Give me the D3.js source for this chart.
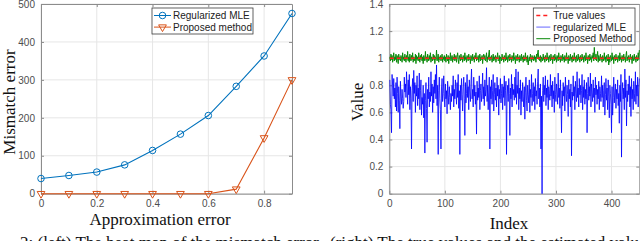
<!DOCTYPE html>
<html>
<head>
<meta charset="utf-8">
<script src="https://cdn.jsdelivr.net/npm/d3@7"></script>
<style>
  body { margin: 0; background: #fff; overflow: hidden; }
  svg { display: block; }
  .tick text { font-family: "Liberation Sans", Arial, sans-serif; font-size: 10px; fill: #4d4d4d; }
</style>
</head>
<body>
<script>
// ---- left panel data
var approxErr = [0, 0.1, 0.2, 0.3, 0.4, 0.5, 0.6, 0.7, 0.8, 0.9];
var mleError = [40, 48, 57, 76, 114, 157, 206, 283, 363, 475];
var proposedError = [0, 0, 0, 0, 0, 0, 0, 12, 147, 300];
var leftXTicks = [0, 0.2, 0.4, 0.6, 0.8];
var leftYTicks = [0, 100, 200, 300, 400, 500];

// ---- right panel data (index 1..450)
var trueValue = 1;
var mleValues = [
  0.84,0.66,0.62,0.45,0.88,0.80,0.72,0.85,0.70,0.78,
  0.64,0.82,0.61,0.86,0.74,0.60,0.79,0.69,0.48,0.83,
  0.72,0.66,0.77,0.70,0.63,0.68,0.86,0.75,0.81,0.71,
  0.90,0.78,0.66,0.84,0.73,0.88,0.62,0.79,0.70,0.33,
  0.76,0.85,0.68,0.91,0.74,0.82,0.60,0.80,0.72,0.87,
  0.65,0.78,0.70,0.89,0.62,0.76,0.84,0.58,0.71,0.66,
  0.80,0.56,0.74,0.30,0.69,0.82,0.63,0.38,0.77,0.70,
  0.86,0.64,0.75,0.68,0.90,0.72,0.81,0.60,0.79,0.67,
  0.84,0.74,0.88,0.70,0.95,0.65,0.80,0.29,0.76,0.86,
  0.70,0.62,0.33,0.78,0.85,0.68,0.74,0.87,0.72,0.64,
  0.81,0.70,0.76,0.59,0.83,0.73,0.66,0.79,0.71,0.62,
  0.74,0.68,0.80,0.72,0.87,0.64,0.77,0.70,0.84,0.75,
  0.66,0.82,0.71,0.88,0.63,0.76,0.29,0.80,0.69,0.85,
  0.73,0.61,0.78,0.86,0.70,0.43,0.82,0.67,0.74,0.88,
  0.71,0.79,0.62,0.84,0.75,0.68,0.81,0.92,0.70,0.77,
  0.64,0.86,0.72,0.80,0.66,0.75,0.44,0.83,0.69,0.78,
  0.71,0.87,0.62,0.76,0.81,0.68,0.74,0.89,0.70,0.79,
  0.65,0.84,0.72,0.77,0.93,0.68,0.80,0.62,0.75,0.86,
  0.33,0.79,0.70,0.84,0.66,0.76,0.88,0.61,0.73,0.82,
  0.69,0.78,0.64,0.86,0.72,0.80,0.58,0.77,0.70,0.85,
  0.67,0.74,0.81,0.62,0.79,0.71,0.87,0.65,0.76,0.83,
  0.29,0.72,0.80,0.68,0.85,0.74,0.43,0.78,0.70,0.88,
  0.64,0.81,0.73,0.77,0.69,0.86,0.71,0.92,0.66,0.80,
  0.74,0.90,0.62,0.78,0.70,0.84,0.58,0.76,0.68,0.82,
  0.72,0.64,0.79,0.55,0.75,0.86,0.69,0.61,0.80,0.73,
  0.67,0.84,0.60,0.77,0.71,0.88,0.65,0.74,0.82,0.68,
  0.79,0.62,0.85,0.72,0.76,0.66,0.83,0.92,0.70,0.78,
  0.64,0.81,0.33,0.72,0.00,0.76,0.86,0.68,0.80,0.73,
  0.87,0.65,0.78,0.71,0.84,0.62,0.79,0.74,0.69,0.88,
  0.72,0.80,0.64,0.83,0.70,0.76,0.60,0.86,0.73,0.68,
  0.81,0.75,0.66,0.89,0.71,0.78,0.63,0.84,0.70,0.45,
  0.76,0.65,0.82,0.72,0.79,0.61,0.86,0.74,0.68,0.80,
  0.73,0.57,0.84,0.70,0.77,0.64,0.81,0.28,0.75,0.69,
  0.87,0.72,0.79,0.62,0.83,0.74,0.68,0.90,0.71,0.78,
  0.64,0.85,0.73,0.80,0.67,0.76,0.88,0.62,0.79,0.71,
  0.84,0.66,0.77,0.70,0.82,0.45,0.74,0.86,0.69,0.79,
  0.72,0.89,0.64,0.81,0.75,0.68,0.84,0.71,0.78,0.60,
  0.86,0.73,0.80,0.66,0.77,0.70,0.83,0.62,0.79,0.74,
  0.68,0.87,0.71,0.80,0.64,0.76,0.82,0.58,0.73,0.85,
  0.69,0.78,0.62,0.84,0.72,0.56,0.80,0.74,0.66,0.45,
  0.79,0.58,0.71,0.86,0.67,0.75,0.81,0.63,0.77,0.70,
  0.84,0.65,0.74,0.52,0.80,0.68,0.88,0.27,0.73,0.82,
  0.70,0.78,0.62,0.92,0.71,0.84,0.50,0.76,0.68,0.81,
  0.73,0.87,0.64,0.79,0.57,0.85,0.70,0.77,0.62,0.83,
  0.74,0.68,0.90,0.66,0.80,0.72,0.86,0.64,0.78,0.85
];
var proposedValues = [
  1.01,0.98,1.03,0.99,1.02,0.97,1.00,1.04,0.98,1.01,
  0.99,1.03,0.97,1.02,1.00,0.96,1.03,0.99,1.01,0.98,
  1.02,1.00,0.97,1.04,0.99,1.01,0.98,1.03,1.00,0.97,
  1.02,0.99,1.05,0.98,1.01,0.97,1.03,1.00,0.98,1.02,
  0.99,1.04,0.97,1.01,1.00,0.98,1.03,0.96,1.02,0.99,
  1.01,0.98,1.04,1.00,0.97,1.02,0.99,1.03,0.98,1.01,
  0.96,1.02,1.00,0.98,1.05,0.99,1.01,0.97,1.03,1.00,
  0.98,1.02,0.99,1.04,0.97,1.01,1.00,0.98,1.03,0.99,
  1.02,0.96,1.01,0.99,1.06,0.98,1.00,1.03,0.97,1.01,
  0.99,1.02,0.98,1.00,1.03,0.97,1.01,0.99,1.02,0.98,
  1.01,0.97,1.03,1.00,0.98,1.02,0.96,1.01,0.99,1.04,
  0.98,1.00,1.02,0.97,1.01,0.99,1.03,0.98,1.00,1.02,
  0.97,1.01,1.04,0.99,0.96,1.02,1.00,0.98,1.03,0.99,
  1.01,0.97,1.02,1.00,0.98,1.04,0.99,1.01,0.97,1.02,
  1.00,0.98,1.03,0.99,1.01,0.96,1.02,1.00,0.98,1.03,
  0.99,1.01,0.97,1.02,1.00,1.04,0.98,1.01,0.99,1.02,
  0.97,1.00,1.03,0.98,1.01,0.99,1.02,0.96,1.01,1.03,
  0.99,1.02,0.98,1.00,1.04,0.97,1.01,0.99,1.03,1.06,
  0.98,1.01,0.99,1.02,0.97,1.00,1.03,0.98,1.01,0.99,
  1.02,0.97,1.01,1.00,1.04,0.98,0.99,1.02,0.96,1.01,
  1.00,0.98,1.03,0.99,1.01,0.97,1.02,1.00,0.98,1.04,
  0.99,1.01,0.97,1.02,1.00,0.98,1.03,0.99,1.01,0.97,
  1.02,1.00,0.98,1.04,0.99,1.01,0.96,1.02,1.00,0.98,
  1.03,0.99,1.01,0.97,1.02,1.00,0.98,1.03,0.99,1.01,
  0.97,1.02,1.00,0.98,1.04,0.99,1.01,0.97,1.02,0.95,
  0.99,1.01,0.98,1.03,1.00,0.97,1.02,0.99,1.01,0.98,
  1.02,0.99,1.01,0.97,1.03,1.00,1.04,1.06,0.99,1.01,
  0.98,1.02,0.97,1.01,1.00,0.98,1.03,0.99,1.01,0.97,
  1.02,1.00,0.98,1.04,0.99,1.01,0.97,1.02,1.00,0.98,
  1.03,0.99,1.01,0.96,1.02,1.00,0.98,1.03,0.99,1.01,
  0.97,1.02,1.00,0.98,1.04,0.99,1.01,0.97,1.02,1.00,
  0.98,1.03,0.99,1.01,0.97,1.02,1.00,0.98,1.04,0.99,
  1.01,0.96,1.02,1.00,0.98,1.03,0.99,1.01,0.97,1.02,
  1.00,0.98,1.04,0.99,1.01,0.97,1.02,1.00,0.98,1.03,
  0.99,1.01,0.97,1.02,1.00,0.98,1.03,0.99,1.01,0.97,
  1.02,1.00,0.98,1.04,0.99,1.01,0.96,1.02,1.00,0.98,
  1.03,0.99,1.01,0.97,1.02,1.00,1.04,0.98,1.08,1.01,
  0.99,1.03,0.98,1.01,1.05,0.97,1.02,1.00,0.98,1.03,
  0.99,1.01,0.97,1.02,1.00,0.98,1.04,0.99,1.01,0.97,
  1.02,1.00,0.98,1.03,0.95,1.01,0.97,1.02,1.00,0.98,
  1.04,0.99,1.01,0.96,1.02,1.00,0.98,1.03,0.99,1.01,
  0.97,1.02,1.00,0.98,1.04,0.99,1.01,0.97,1.02,1.00,
  0.98,1.03,0.99,1.01,0.97,1.02,1.05,0.98,1.01,0.99,
  1.02,0.97,1.00,1.03,0.99,1.01,0.96,1.02,1.00,0.98,
  1.03,0.99,1.01,0.97,1.02,1.00,0.98,1.04,0.99,1.06
];
var rightXTicks = [0, 100, 200, 300, 400];
var rightYTicks = [0, 0.2, 0.4, 0.6, 0.8, 1, 1.2, 1.4];

var captionLeft = "2: (left) The heat map of the mismatch error.";
var captionRight = "(right) The true values and the estimated values by the";

var W = 640, H = 241;
var serif = '"Liberation Serif", "DejaVu Serif", serif';
var sans = '"Liberation Sans", Arial, sans-serif';
var axisColor = "#8c8c8c";
var gridColor = "#e6e6e6";

var svg = d3.select("body").append("svg")
    .attr("width", W)
    .attr("height", H);

// draws box, grid, ticks and labels of one MATLAB-style axes
function drawFrame(g, x, y, xTicks, yTicks) {
    var x0 = x.range()[0], x1 = x.range()[1];
    var y0 = y.range()[0], y1 = y.range()[1];
    var w = x1 - x0, h = y0 - y1;

    // grid
    g.append("g").selectAll("line").data(xTicks).enter().append("line")
        .attr("x1", function(d) { return x(d); })
        .attr("x2", function(d) { return x(d); })
        .attr("y1", y1).attr("y2", y0)
        .attr("stroke", gridColor).attr("stroke-width", 1);
    g.append("g").selectAll("line").data(yTicks).enter().append("line")
        .attr("y1", function(d) { return y(d); })
        .attr("y2", function(d) { return y(d); })
        .attr("x1", x0).attr("x2", x1)
        .attr("stroke", gridColor).attr("stroke-width", 1);

    var fmt = d3.format("~g");
    var axes = [
        g.append("g").attr("transform", "translate(0," + y0 + ")")
            .call(d3.axisBottom(x).tickValues(xTicks).tickSizeInner(-3).tickSizeOuter(0).tickPadding(6).tickFormat(fmt)),
        g.append("g").attr("transform", "translate(" + x0 + ",0)")
            .call(d3.axisLeft(y).tickValues(yTicks).tickSizeInner(-3).tickSizeOuter(0).tickPadding(6).tickFormat(fmt)),
        g.append("g").attr("transform", "translate(0," + y1 + ")")
            .call(d3.axisTop(x).tickValues(xTicks).tickSizeInner(-3).tickSizeOuter(0).tickFormat("")),
        g.append("g").attr("transform", "translate(" + x1 + ",0)")
            .call(d3.axisRight(y).tickValues(yTicks).tickSizeInner(-3).tickSizeOuter(0).tickFormat(""))
    ];
    axes.forEach(function(a) {
        a.select(".domain").attr("stroke", axisColor);
        a.selectAll(".tick line").attr("stroke", axisColor);
    });
}

function drawLegend(g, x, y, w, h, items) {
    g.append("rect")
        .attr("x", x).attr("y", y).attr("width", w).attr("height", h)
        .attr("fill", "#fff").attr("stroke", "#3a3a3a").attr("stroke-width", 0.8);
    items.forEach(function(it, i) {
        var cy = y + 7.5 + i * 11.6;
        var row = g.append("g");
        row.append("line")
            .attr("x1", x + it.lx0).attr("x2", x + it.lx1)
            .attr("y1", cy).attr("y2", cy)
            .attr("stroke", it.color)
            .attr("stroke-width", it.width || 1)
            .attr("stroke-opacity", it.opacity || 1)
            .attr("stroke-dasharray", it.dash || null);
        if (it.symbol) {
            row.append("path")
                .attr("d", it.symbol)
                .attr("transform", "translate(" + (x + (it.lx0 + it.lx1) / 2) + "," + cy + ")" + (it.rotate ? " rotate(180)" : ""))
                .attr("fill", "none").attr("stroke", it.color).attr("stroke-width", 1);
        }
        row.append("text")
            .attr("x", x + it.tx).attr("y", cy + 3.6)
            .attr("font-family", sans).attr("font-size", "10px")
            .attr("fill", "#222")
            .text(it.label);
    });
}

// ================= left panel =================
var xL = d3.scaleLinear().domain([0, 0.9]).range([41, 292]);
var yL = d3.scaleLinear().domain([0, 500]).range([193.7, 4]);
var gL = svg.append("g");
drawFrame(gL, xL, yL, leftXTicks, leftYTicks);

var circleSym = d3.symbol().type(d3.symbolCircle).size(34)();
var triSym = d3.symbol().type(d3.symbolTriangle).size(26)();

var lineL = d3.line()
    .x(function(d) { return xL(d[0]); })
    .y(function(d) { return yL(d[1]); });

var seriesL = [
    { values: mleError, color: "#0072BD", sym: circleSym, rot: false },
    { values: proposedError, color: "#D95319", sym: triSym, rot: true }
];
seriesL.forEach(function(s) {
    var pts = approxErr.map(function(a, i) { return [a, s.values[i]]; });
    gL.append("path")
        .attr("d", lineL(pts))
        .attr("fill", "none").attr("stroke", s.color).attr("stroke-width", 1.1);
    gL.append("g").selectAll("path").data(pts).enter().append("path")
        .attr("d", s.sym)
        .attr("transform", function(d) {
            return "translate(" + xL(d[0]) + "," + yL(d[1]) + ")" + (s.rot ? " rotate(180)" : "");
        })
        .attr("fill", "none").attr("stroke", s.color).attr("stroke-width", 1);
});

drawLegend(gL, 152, 8, 101, 26, [
    { label: "Regularized MLE", color: "#0072BD", lx0: 2, lx1: 19, tx: 21, symbol: circleSym },
    { label: "Proposed method", color: "#D95319", lx0: 2, lx1: 19, tx: 21, symbol: triSym, rotate: true }
]);

gL.append("text")
    .attr("x", 160).attr("y", 224.5)
    .attr("text-anchor", "middle")
    .attr("font-family", serif).attr("font-size", "17px").attr("fill", "#111")
    .text("Approximation error");
gL.append("text")
    .attr("transform", "translate(14.5,102) rotate(-90)")
    .attr("text-anchor", "middle")
    .attr("font-family", serif).attr("font-size", "17px").attr("fill", "#111")
    .text("Mismatch error");

// ================= right panel =================
var xR = d3.scaleLinear().domain([0, 450]).range([389.3, 639.3]);
var yR = d3.scaleLinear().domain([0, 1.4]).range([193.7, 4]);
var gR = svg.append("g");
drawFrame(gR, xR, yR, rightXTicks, rightYTicks);

var lineR = d3.line()
    .x(function(d, i) { return xR(i + 1); })
    .y(function(d) { return yR(d); });

gR.append("path")
    .attr("d", lineR(mleValues))
    .attr("fill", "none").attr("stroke", "#0000ff").attr("stroke-opacity", 0.8).attr("stroke-width", 1);
gR.append("path")
    .attr("d", lineR(proposedValues))
    .attr("fill", "none").attr("stroke", "#0a8a0a").attr("stroke-width", 1);
gR.append("line")
    .attr("x1", xR(1)).attr("x2", xR(proposedValues.length))
    .attr("y1", yR(trueValue)).attr("y2", yR(trueValue))
    .attr("stroke", "#ff2020").attr("stroke-width", 1.4).attr("stroke-dasharray", "4,3");

drawLegend(gR, 533.3, 8, 101.7, 37, [
    { label: "True values", color: "#ff2020", lx0: 3, lx1: 17, tx: 20, dash: "4,3", width: 1.6 },
    { label: "regularized MLE", color: "#0000ff", lx0: 3, lx1: 17, tx: 20, opacity: 0.5, width: 1.2 },
    { label: "Proposed Method", color: "#0a8a0a", lx0: 3, lx1: 17, tx: 20 }
]);

gR.append("text")
    .attr("x", 509).attr("y", 229)
    .attr("text-anchor", "middle")
    .attr("font-family", serif).attr("font-size", "17px").attr("fill", "#111")
    .text("Index");
gR.append("text")
    .attr("transform", "translate(363,102) rotate(-90)")
    .attr("text-anchor", "middle")
    .attr("font-family", serif).attr("font-size", "17px").attr("fill", "#111")
    .text("Value");

// caption, clipped by the bottom edge as in the source image
svg.append("text")
    .attr("x", 20).attr("y", 248)
    .attr("font-family", serif).attr("font-size", "17px").attr("fill", "#111")
    .text(captionLeft);
svg.append("text")
    .attr("x", 330).attr("y", 248)
    .attr("font-family", serif).attr("font-size", "17px").attr("fill", "#111")
    .text(captionRight);
</script>
</body>
</html>
